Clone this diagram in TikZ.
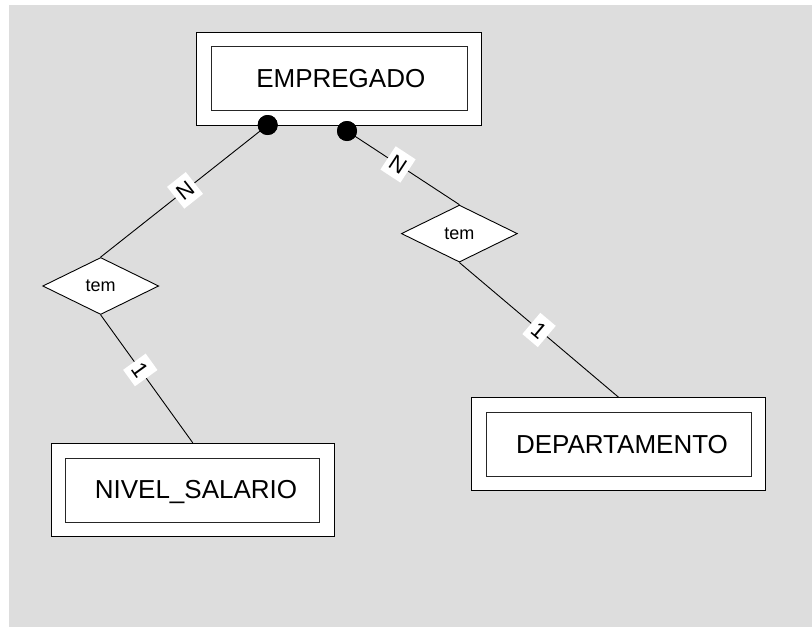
\documentclass[tikz,border=0pt]{standalone}
\usepackage{fontspec}
\setmainfont{Liberation Sans}
\usetikzlibrary{shapes.geometric}
\definecolor{bggray}{HTML}{DDDDDD}
\tikzset{
  entout/.style={draw=black, line width=0.9pt, fill=white, rectangle, inner sep=0pt, minimum height=93pt},
  entin/.style={draw=black!85, line width=0.9pt, fill=white, rectangle, inner sep=0pt, minimum height=64pt},
  enttext/.style={inner sep=0pt, font=\fontsize{26}{30}\selectfont, text height=18.6pt, text depth=0pt},
  rel/.style={draw=black, line width=0.9pt, fill=white, diamond, aspect=2, inner sep=0pt,
     minimum width=116pt, minimum height=57pt, font=\fontsize{18}{21}\selectfont},
  dotnode/.style={circle, fill=black, minimum size=20pt, inner sep=0pt},
  conn/.style={draw=black, line width=0.9pt},
  card/.style={fill=white, sloped, inner xsep=4pt, inner ysep=6pt, font=\fontsize{22}{26}\selectfont, text height=15.8pt, text depth=0pt}
}
\begin{document}
\begin{tikzpicture}[x=1pt, y=-1pt]
\useasboundingbox (0,0) rectangle (812,627);
\fill[bggray] (9,5) rectangle (812,627);

% entities
\node[entout, minimum width=285pt] (empO) at (339.2,78.5) {};
\node[entin, minimum width=256pt] (empI) at (339.2,78.8) {};
\node[enttext] (emp) at (340.8,78) {EMPREGADO};

\node[entout, minimum width=294pt] (depO) at (618.7,444.3) {};
\node[entin, minimum width=265pt] (depI) at (618.7,444.3) {};
\node[enttext] (dep) at (622,444) {DEPARTAMENTO};

\node[entout, minimum width=283pt] (nivO) at (192.8,489.8) {};
\node[entin, minimum width=254pt] (nivI) at (192.9,490) {};
\node[enttext] (niv) at (196,489.2) {NIVEL\_SALARIO};

% relationships
\node[rel] (relL) at (100.7,286) {tem};
\node[rel] (relR) at (459.4,233.6) {tem};

% participation dots
\node[dotnode] (dotL) at (267.7,125) {};
\node[dotnode] (dotR) at (347,131) {};

% connectors
\draw[conn] (dotL.center) -- node[card, pos=0.495] {N} (relL.north);
\draw[conn] (dotR.center) -- node[card, pos=0.454] {N} (relR.north);
\draw[conn] (relL.south) -- node[card, pos=0.43] {1} (nivO.north);
\draw[conn] (relR.south) -- node[card, pos=0.5] {1} (depO.north);

% redraw dots on top
\node[dotnode] at (dotL) {};
\node[dotnode] at (dotR) {};
\end{tikzpicture}
\end{document}
